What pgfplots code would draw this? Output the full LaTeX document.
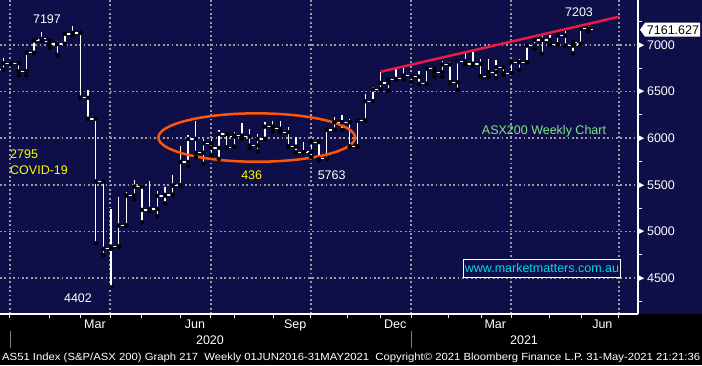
\documentclass[border=0pt]{standalone}
\usepackage{pgfplots}
\pgfplotsset{compat=1.18}
\usepackage{pgfplotstable}
\usepackage{graphicx}
\usepackage{fontspec}
\setmainfont{Liberation Sans}
\newfontfamily\dejavu{DejaVu Sans}
\definecolor{navy}{RGB}{14,14,72}
\definecolor{gridgray}{RGB}{155,155,155}
\definecolor{trend}{RGB}{235,25,70}
\definecolor{ell}{RGB}{255,85,10}
\definecolor{yel}{RGB}{255,255,0}
\definecolor{grn}{RGB}{130,230,130}
\definecolor{cyn}{RGB}{0,220,230}
\newcommand\lab{\fontsize{12.5}{14}\selectfont}

\pgfplotstableread{
x o h l c
1 6732 6860 6732 6803
2 6803 6817 6789 6803
3 6803 6817 6671 6717
4 6717 6914 6671 6914
5 6914 7064 6914 7046
6 7053 7142 7046 7064
7 7039 7039 6967 7010
8 7010 7039 6892 7010
9 7010 7135 7010 7117
10 7117 7197 7099 7128
11 7128 7128 6432 6432
12 6432 6521 6207 6207
13 6207 6207 4875 5536
14 5536 5536 4750 4815
15 4815 5243 4402 4839
16 4839 5368 4839 5064
17 5064 5421 5064 5386
18 5386 5557 5350 5482
19 5482 5482 5100 5232
20 5232 5546 5218 5243
21 5243 5432 5164 5382
22 5382 5482 5303 5393
23 5393 5610 5393 5493
24 5493 5921 5493 5746
25 5746 6039 5700 5992
26 5992 6189 5796 5843
27 5843 5992 5725 5946
28 5946 5992 5821 5896
29 5896 6089 5778 6046
30 6046 6046 5903 5903
31 6017 6064 5910 6028
32 6028 6160 5992 6017
33 6017 6100 5896 5921
34 5921 6046 5860 5992
35 5992 6178 5992 6124
36 6124 6189 6064 6100
37 6100 6189 6057 6064
38 6064 6124 5910 5910
39 5910 6010 5842 5850
40 5850 5957 5842 5850
41 5857 5957 5796 5957
42 5957 5957 5763 5779
43 5779 6111 5779 6089
44 6089 6232 6089 6171
45 6171 6243 6089 6171
46 6171 6207 5911 5911
47 5911 6196 5911 6189
48 6189 6475 6189 6396
49 6396 6546 6396 6521
50 6521 6707 6521 6592
51 6592 6636 6511 6628
52 6628 6742 6628 6636
53 6636 6760 6636 6671
54 6671 6696 6600 6660
55 6660 6718 6582 6582
56 6582 6743 6582 6743
57 6743 6743 6660 6707
58 6707 6825 6660 6789
59 6789 6814 6589 6600
60 6600 6839 6518 6825
61 6825 6921 6789 6796
62 6796 6921 6778 6796
63 6796 6850 6660 6660
64 6660 6849 6653 6707
65 6707 6832 6646 6760
66 6760 6760 6678 6696
67 6696 6825 6696 6814
68 6814 6849 6732 6814
69 6814 6992 6814 6992
70 6992 7064 6957 7053
71 7053 7099 6903 7053
72 7053 7110 7003 7003
73 7003 7110 7003 7099
74 7099 7153 6982 6992
75 6992 7028 6910 7028
76 7010 7171 7010 7171
77 7171 7203 7146 7162
}\ohlc

\begin{document}
\begin{tikzpicture}
\fill[black] (0,0) rectangle (702pt,365pt);
\fill[navy] (0,51pt) rectangle (702pt,365pt);
\begin{axis}[
  at={(0pt,51pt)}, anchor=south west,
  scale only axis, width=638pt, height=314pt,
  xmin=0.5714, xmax=83.43, ymin=4117, ymax=7480,
  clip=false,
  axis x line*=bottom, axis y line*=right,
  axis line style={white, line width=1.2pt},
  xtick={1.87,14.86,27.97,40.96,53.95,66.94,80.96},
  xticklabels={},
  minor xtick={6.94,11.04,19.01,23.95,31.0,36.06,45.64,50.05,58.88,63.04,72.0,76.15},
  extra x ticks={12.91,25.9,38.9,51.9,64.9,78.8},
  extra x tick labels={Mar,Jun,Sep,Dec,Mar,Jun},
  extra x tick style={grid=none, major tick length=0pt,
     xticklabel style={anchor=north, inner sep=0pt, yshift=-5.5pt}},
  ytick={4500,5000,5500,6000,6500,7000},
  minor ytick={4250,4750,5250,5750,6250,6750,7250},
  tick align=outside,
  major tick length=3.5pt, minor tick length=4pt,
  tick style={white, line width=1pt},
  major y tick style={draw=none},
  xmajorgrids, ymajorgrids,
  grid style={gridgray, line width=1.8pt, dash pattern=on 1.8pt off 2.6pt},
  yticklabel={\raisebox{2pt}{\dejavu\fontsize{7}{7}\selectfont ▶}\hspace{2.5pt}\pgfmathprintnumber{\tick}},
  yticklabel style={anchor=west, inner sep=0pt, xshift=-2.5pt},
  ticklabel style={white, font=\lab},
  /pgf/number format/assume math mode=true,
  /pgf/number format/1000 sep={},
]
\addplot[only marks, mark=none, forget plot,
  error bars/.cd, y dir=plus, y explicit, error mark=none,
  error bar style={white, line width=1.3pt}]
  table[x=x, y=l, y error expr=\thisrow{h}-\thisrow{l}] {\ohlc};
\addplot[only marks, mark=none, forget plot,
  error bars/.cd, x dir=minus, x fixed=0.55, error mark=none,
  error bar style={white, line width=1.3pt}]
  table[x=x, y=o] {\ohlc};
\addplot[only marks, mark=none, forget plot,
  error bars/.cd, x dir=plus, x fixed=0.55, error mark=none,
  error bar style={white, line width=1.3pt}]
  table[x=x, y=c] {\ohlc};
\addplot[trend, line width=2.5pt] coordinates {(50.01,6712) (81.0,7301)};
\draw[ell, line width=2.5pt] (axis cs:33.91,6007) ellipse [x radius=98.3pt, y radius=24.2pt];
\coordinate (lp) at (axis cs:83.43,7161.627);
\end{axis}
% last-value box
\fill[white] ([xshift=2pt]lp) -- ++(5pt,7pt) -- ++(55pt,0) -- ++(0,-14pt) -- ++(-55pt,0) -- cycle;
\node[black, font=\lab, inner sep=0pt] at ([xshift=35pt]lp) {7161.627};
% annotations
\node[white, font=\lab, inner sep=0pt] at (47pt,346pt) {7197};
\node[yel, font=\lab, inner sep=0pt, anchor=west] at (10pt,211pt) {2795};
\node[yel, font=\lab, inner sep=0pt, anchor=west] at (10pt,195pt) {COVID-19};
\node[white, font=\lab, inner sep=0pt] at (78pt,67.3pt) {4402};
\node[yel, font=\lab, inner sep=0pt] at (251.7pt,190pt) {436};
\node[white, font=\lab, inner sep=0pt] at (331.7pt,190pt) {5763};
\node[white, font=\lab, inner sep=0pt] at (579pt,352.7pt) {7203};
\node[grn, font=\lab, inner sep=0pt, anchor=base] at (544pt,230.5pt) {ASX200 Weekly Chart};
\draw[white, line width=1.2pt, fill=navy] (463.3pt,87.7pt) rectangle (620.7pt,105.7pt);
\node[cyn, font=\lab, inner sep=0pt] at (542pt,96.7pt) {www.marketmatters.com.au};
% year row
\draw[gray, line width=1pt] (10pt,34pt) -- (10pt,17pt);
\draw[gray, line width=1pt] (411pt,34pt) -- (411pt,17pt);
\node[white, font=\lab, inner sep=0pt] at (210pt,25pt) {2020};
\node[white, font=\lab, inner sep=0pt] at (524pt,25pt) {2021};
% footer
\node[white, anchor=base west, inner sep=0pt] at (2pt,4.5pt) {\resizebox{698pt}{7.5pt}{\fontsize{11}{12}\selectfont AS51 Index (S\&P/ASX 200) Graph 217\ \ Weekly 01JUN2016-31MAY2021\ \ Copyright© 2021 Bloomberg Finance L.P. 31-May-2021 21:21:36}};
\pgfresetboundingbox
\path[use as bounding box] (0,0) rectangle (702pt,365pt);
\end{tikzpicture}
\end{document}
